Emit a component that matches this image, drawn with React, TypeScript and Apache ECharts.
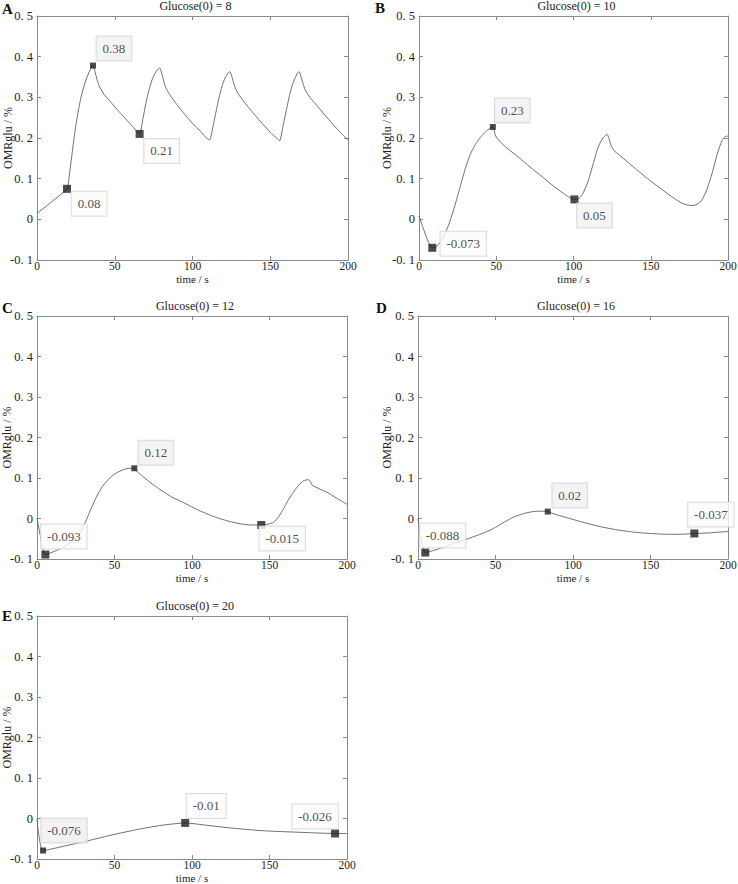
import React, { useEffect, useRef } from "react";
import * as echarts from "echarts";

// ---------- DATA ----------
const titles = ["Glucose(0) = 8", "Glucose(0) = 10", "Glucose(0) = 12", "Glucose(0) = 16", "Glucose(0) = 20"];
const letters = ["A", "B", "C", "D", "E"];

const xTicks = [0, 50, 100, 150, 200];
const yTicks = [-0.1, 0, 0.1, 0.2, 0.3, 0.4, 0.5];

const aTime = [0, 19.3, 20.5, 22, 24, 26, 28, 30, 32, 34, 36, 37, 38.5, 40, 43, 47, 52, 57, 62, 66, 68, 70, 72, 74, 76, 78, 79, 80, 81.5, 83, 86, 90, 95, 100, 105, 109, 111, 113, 115, 117, 119, 121, 123, 124, 125, 126.5, 128, 131, 135, 140, 145, 150, 154, 156, 158, 160, 162, 164, 166, 167.5, 168.5, 169.5, 171, 172.5, 175.5, 180, 185, 190, 195, 200];
const aOmr = [0.015, 0.075, 0.1, 0.145, 0.205, 0.255, 0.295, 0.325, 0.348, 0.366, 0.378, 0.368, 0.345, 0.328, 0.308, 0.29, 0.268, 0.247, 0.226, 0.21, 0.245, 0.285, 0.318, 0.343, 0.36, 0.37, 0.372, 0.362, 0.34, 0.322, 0.303, 0.282, 0.258, 0.236, 0.217, 0.2, 0.195, 0.225, 0.262, 0.298, 0.328, 0.348, 0.36, 0.363, 0.355, 0.335, 0.318, 0.3, 0.28, 0.257, 0.235, 0.214, 0.2, 0.193, 0.225, 0.262, 0.298, 0.328, 0.348, 0.36, 0.363, 0.355, 0.335, 0.318, 0.3, 0.28, 0.257, 0.235, 0.214, 0.195];
const aMarkTime = [19.3, 36, 66];
const aMarkOmr = [0.075, 0.378, 0.21];
const aMarkLabel = ["0.08", "0.38", "0.21"];

const bTime = [0, 3, 6, 8.6, 11, 14, 17, 20, 23.7, 27, 30, 33, 36.6, 40, 43, 46, 47.8, 48.5, 49.6, 52, 57, 64.7, 72, 79.7, 86, 92.7, 97, 100.6, 103, 105.6, 108, 110, 113, 116, 119, 121.8, 123, 124, 126, 130, 140, 150, 157, 165, 170, 174, 176.7, 180, 183, 186, 189.7, 193, 196, 198, 200];
const bOmr = [0.008, -0.025, -0.055, -0.07, -0.068, -0.055, -0.034, -0.005, 0.04, 0.085, 0.125, 0.158, 0.185, 0.203, 0.215, 0.224, 0.227, 0.222, 0.205, 0.193, 0.175, 0.152, 0.128, 0.105, 0.085, 0.066, 0.055, 0.049, 0.05, 0.06, 0.08, 0.1, 0.14, 0.178, 0.2, 0.209, 0.198, 0.185, 0.17, 0.157, 0.125, 0.094, 0.074, 0.052, 0.04, 0.035, 0.034, 0.037, 0.047, 0.07, 0.113, 0.16, 0.193, 0.203, 0.205];
const bMarkTime = [8.6, 47.8, 100.6];
const bMarkOmr = [-0.07, 0.227, 0.049];
const bMarkLabel = ["-0.073", "0.23", "0.05"];

const cTime = [0, 2, 5.4, 10, 15, 20, 25.8, 29, 32, 35, 38.7, 42, 47, 51, 56, 60, 62.8, 64, 67, 73, 80, 87, 94.6, 105, 116, 124, 131, 138, 144.7, 149, 152.7, 156, 159, 162, 165.6, 169, 172, 175, 176, 177.4, 180, 187, 193, 200];
const cOmr = [0.002, -0.04, -0.089, -0.083, -0.075, -0.064, -0.047, -0.027, -0.002, 0.025, 0.056, 0.078, 0.1, 0.112, 0.121, 0.124, 0.124, 0.118, 0.108, 0.089, 0.07, 0.053, 0.039, 0.019, 0.002, -0.007, -0.013, -0.016, -0.016, -0.014, -0.009, 0.005, 0.024, 0.045, 0.066, 0.083, 0.093, 0.096, 0.093, 0.083, 0.077, 0.065, 0.051, 0.035];
const cMarkTime = [5.4, 62.8, 144.7];
const cMarkOmr = [-0.089, 0.124, -0.016];
const cMarkLabel = ["-0.093", "0.12", "-0.015"];

const dTime = [0, 4.7, 10, 17, 24, 33, 43.4, 50, 56, 62, 68, 74, 79, 83.7, 88, 97, 108, 118.7, 130, 140, 150, 161.7, 170, 178.3, 186, 193, 200];
const dOmr = [0.0, -0.084, -0.079, -0.07, -0.06, -0.049, -0.034, -0.022, -0.008, 0.004, 0.012, 0.017, 0.018, 0.017, 0.011, 0.001, -0.011, -0.021, -0.029, -0.034, -0.037, -0.039, -0.039, -0.037, -0.036, -0.034, -0.032];
const dMarkTime = [4.7, 83.7, 178.3];
const dMarkOmr = [-0.084, 0.017, -0.037];
const dMarkLabel = ["-0.088", "0.02", "-0.037"];

const eTime = [0, 3.9, 20, 35, 49, 65, 80, 95.6, 110, 126.5, 145, 169, 192.3, 200];
const eOmr = [0.0, -0.079, -0.066, -0.053, -0.04, -0.027, -0.017, -0.011, -0.017, -0.024, -0.03, -0.034, -0.037, -0.037];
const eMarkTime = [3.9, 95.6, 192.3];
const eMarkOmr = [-0.079, -0.011, -0.037];
const eMarkLabel = ["-0.076", "-0.01", "-0.026"];

// ---------- LAYOUT / STYLE ----------
const FONT = "'Liberation Serif', 'Times New Roman', serif";
const grids = [
  { left: 37, top: 16, width: 311, height: 244 },
  { left: 419, top: 16, width: 309, height: 244 },
  { left: 37, top: 316, width: 310, height: 243 },
  { left: 418, top: 316, width: 310, height: 243 },
  { left: 37, top: 616, width: 310, height: 243 },
];
const yNameGaps = [23, 26, 24, 25, 24];
const titleY = [6, 6, 305.5, 305.5, 605.5];
const letterPos = [
  [2, 9],
  [375, 8],
  [2, 308],
  [376, 307.5],
  [2, 616],
];
const labelOffsets = [
  [[22, 15], [21, -17], [22, 17]],
  [[31, -4], [19.5, -16.5], [20, 16]],
  [[18.5, -18], [21.5, -15.5], [21, 13.5]],
  [[17.3, -17], [22, -16], [16.5, -19]],
  [[21, -20], [21, -17], [-20, -17]],
];
const markerSizes = [
  [8, 6, 8],
  [8, 6, 8],
  [8, 6, 8],
  [8, 6, 8],
  [6, 8, 8],
];
const boxFills = [
  ["#fcfcfc", "#f1f1f1", "#fcfcfc"],
  ["#fcfcfc", "#f1f1f1", "#f3f3f3"],
  ["#fcfcfc", "#f1f1f1", "#fcfcfc"],
  ["#fcfcfc", "#f1f1f1", "#fcfcfc"],
  ["#efefef", "#fcfcfc", "#fcfcfc"],
];

const panels = [
  { t: aTime, v: aOmr, mt: aMarkTime, mv: aMarkOmr, ml: aMarkLabel },
  { t: bTime, v: bOmr, mt: bMarkTime, mv: bMarkOmr, ml: bMarkLabel },
  { t: cTime, v: cOmr, mt: cMarkTime, mv: cMarkOmr, ml: cMarkLabel },
  { t: dTime, v: dOmr, mt: dMarkTime, mv: dMarkOmr, ml: dMarkLabel },
  { t: eTime, v: eOmr, mt: eMarkTime, mv: eMarkOmr, ml: eMarkLabel },
];

const AXIS_COLOR = "#8a8a8a";

function yFmt(val: number): string {
  const r = Math.round(val * 10) / 10;
  if (r === 0) return "0";
  const s = Math.abs(r).toFixed(1).replace(".", ". ");
  return (r < 0 ? "-" : "") + s;
}

function buildOption() {
  const xAxis: any[] = [];
  const yAxis: any[] = [];
  const series: any[] = [];
  const graphic: any[] = [];
  const xMin = xTicks[0];
  const xMax = xTicks[xTicks.length - 1];
  const xInt = xTicks[1] - xTicks[0];
  const yMin = yTicks[0];
  const yMax = yTicks[yTicks.length - 1];
  const yInt = Math.round((yTicks[1] - yTicks[0]) * 10) / 10;

  grids.forEach((g, i) => {
    const common = {
      type: "value",
      gridIndex: i,
      splitLine: { show: false },
      axisLine: { show: true, onZero: false, lineStyle: { color: AXIS_COLOR, width: 1 } },
      axisTick: { show: true, inside: true, length: 4, lineStyle: { color: AXIS_COLOR } },
    };
    xAxis.push({
      ...common,
      position: "bottom",
      min: xMin,
      max: xMax,
      interval: xInt,
      axisLabel: { fontFamily: FONT, fontSize: 11.5, lineHeight: 11, color: "#222", margin: 0.5 },
      name: "time / s",
      nameLocation: "middle",
      nameGap: 13,
      nameMoveOverlap: false,
      nameTextStyle: { fontFamily: FONT, fontSize: 11, lineHeight: 11, color: "#222" },
    });
    xAxis.push({
      ...common,
      position: "top",
      min: xMin,
      max: xMax,
      interval: xInt,
      axisLabel: { show: false },
    });
    yAxis.push({
      ...common,
      position: "left",
      min: yMin,
      max: yMax,
      interval: yInt,
      axisLabel: { fontFamily: FONT, fontSize: 12.5, color: "#222", margin: 4, formatter: yFmt },
      name: "OMRglu / %",
      nameLocation: "middle",
      nameGap: yNameGaps[i],
      nameMoveOverlap: false,
      nameTextStyle: { fontFamily: FONT, fontSize: 12, color: "#222" },
    });
    yAxis.push({
      ...common,
      position: "right",
      min: yMin,
      max: yMax,
      interval: yInt,
      axisLabel: { show: false },
    });

    const p = panels[i];
    series.push({
      type: "line",
      xAxisIndex: i * 2,
      yAxisIndex: i * 2,
      data: p.t.map((x, j) => [x, p.v[j]]),
      showSymbol: false,
      smooth: 0.2,
      lineStyle: { color: "#606060", width: 0.9 },
      z: 2,
    });
    series.push({
      type: "scatter",
      xAxisIndex: i * 2,
      yAxisIndex: i * 2,
      symbol: "rect",
      itemStyle: { color: "#1f1f1f" },
      z: 3,
      label: {
        show: true,
        position: "inside",
        formatter: "{b}",
        fontFamily: FONT,
        fontSize: 13,
        color: "#222",
        borderColor: "#d4d4d4",
        borderWidth: 1,
        padding: [6, 6, 5, 6],
      },
      data: p.mt.map((x, j) => ({
        name: p.ml[j],
        value: [x, p.mv[j]],
        symbolSize: markerSizes[i][j],
        label: { offset: labelOffsets[i][j], backgroundColor: boxFills[i][j] },
      })),
    });

    graphic.push({
      type: "text",
      x: g.left + g.width / 2 + 3,
      y: titleY[i],
      style: {
        text: titles[i],
        font: `12px ${FONT}`,
        fill: "#222",
        textAlign: "center",
        textVerticalAlign: "middle",
        align: "center",
        verticalAlign: "middle",
      },
    });
    graphic.push({
      type: "text",
      x: letterPos[i][0],
      y: letterPos[i][1],
      style: {
        text: letters[i],
        font: `bold 15px ${FONT}`,
        fill: "#111",
        textAlign: "left",
        textVerticalAlign: "middle",
        align: "left",
        verticalAlign: "middle",
      },
    });
  });

  return {
    animation: false,
    backgroundColor: "#ffffff",
    grid: grids.map((g) => ({ ...g, containLabel: false, outerBoundsMode: "none" })),
    xAxis,
    yAxis,
    series,
    graphic,
  };
}

export default function App() {
  const ref = useRef<HTMLDivElement>(null);
  useEffect(() => {
    document.body.style.margin = "0";
    if (!ref.current) return;
    const chart = echarts.init(ref.current, undefined, { renderer: "svg" });
    chart.setOption(buildOption() as any);
    return () => {
      chart.dispose();
    };
  }, []);
  return <div ref={ref} style={{ width: 738, height: 884 }} />;
}
